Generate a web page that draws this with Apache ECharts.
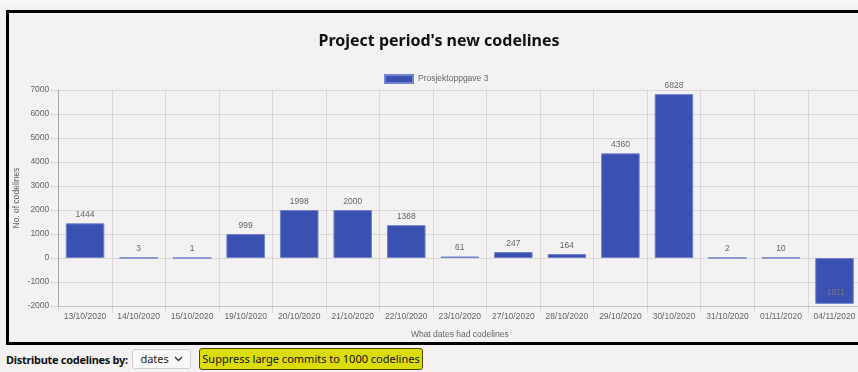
<!DOCTYPE html>
<html>
<head>
<meta charset="utf-8">
<script src="https://cdn.jsdelivr.net/npm/echarts@6/dist/echarts.min.js"></script>
<style>
  html, body { margin: 0; padding: 0; width: 858px; height: 372px; overflow: hidden; background: #f3f1f2; font-family: "Noto Sans", sans-serif; }
  .topstrip { position: absolute; left: 0; top: 0; width: 858px; height: 3px; background: #f8f8f8; }
  .box { position: absolute; left: 6px; top: 10px; width: 880px; height: 329px; border: 3px solid #000; }
  #chart { width: 860px; height: 329px; }
  .controls { position: absolute; left: 0; top: 348px; height: 23px; width: 858px; }
  .lbl { position: absolute; left: 6px; top: 4px; font-weight: bold; font-size: 11px; letter-spacing: -0.3px; color: #111; white-space: nowrap; }
  .sel { position: absolute; left: 132px; top: 1px; width: 57px; height: 18px; border: 1px solid #cfcfcf; border-radius: 3px; background: #f8f8f8; font-size: 11px; color: #222; line-height: 18px; text-align: center; }
  .btn { position: absolute; left: 199px; top: 0px; width: 222px; height: 20px; border: 1px solid #4a4a00; border-radius: 3px; background: #dcdc0a; font-size: 11px; color: #111; line-height: 20px; text-align: center; white-space: nowrap; }
</style>
</head>
<body>
<div class="topstrip"></div>
<div class="box"><div id="chart"></div></div>
<div class="controls">
  <span class="lbl">Distribute codelines by:</span>
  <span class="sel">dates <svg width="9" height="6" viewBox="0 0 9 6" style="vertical-align:1px;margin-left:2px"><path d="M1 1 L4.5 4.5 L8 1" fill="none" stroke="#333" stroke-width="1.4"/></svg></span>
  <span class="btn">Suppress large commits to 1000 codelines</span>
</div>
<script>
// Dates that received commits and the number of new codelines for each
const dates = ['13/10/2020', '14/10/2020', '15/10/2020', '19/10/2020', '20/10/2020', '21/10/2020', '22/10/2020',
  '23/10/2020', '27/10/2020', '28/10/2020', '29/10/2020', '30/10/2020', '31/10/2020', '01/11/2020', '04/11/2020'];
const codelines = [1444, 3, 1, 999, 1998, 2000, 1368, 61, 247, 164, 4360, 6828, 2, 10, -1911];
const seriesName = 'Prosjektoppgave 3';
const yMin = -2000, yMax = 7000, yStep = 1000;

const gridColor = 'rgba(0,0,0,0.1)';
const textColor = '#666';
const baseFont = '"Liberation Sans", Arial, sans-serif';

const chart = echarts.init(document.getElementById('chart'), null, { renderer: 'canvas' });
chart.setOption({
  animation: false,
  backgroundColor: 'transparent',
  textStyle: { fontFamily: baseFont },
  title: {
    text: "Project period's new codelines",
    left: 'center', top: 15,
    textStyle: { fontFamily: '"Noto Sans", sans-serif', fontWeight: 'bold', fontSize: 16, color: '#111' }
  },
  legend: {
    top: 61, left: 375, padding: 0,
    itemWidth: 28, itemHeight: 8, itemGap: 10,
    icon: 'rect',
    textStyle: { fontSize: 8.5, color: textColor, fontFamily: baseFont },
    data: [seriesName]
  },
  grid: { left: 49.3, top: 77, width: 803, height: 216, containLabel: false, outerBoundsMode: 'none' },
  xAxis: {
    type: 'category',
    data: dates,
    boundaryGap: true,
    name: 'What dates had codelines',
    nameLocation: 'middle',
    nameGap: 24,
    nameMoveOverlap: false,
    nameTextStyle: { fontSize: 8.5, color: textColor, fontFamily: baseFont },
    axisLine: { show: true, onZero: false, lineStyle: { color: gridColor } },
    axisTick: { show: true, length: 7, interval: 0, lineStyle: { color: gridColor } },
    axisLabel: { interval: 0, fontSize: 8.5, color: textColor, margin: 6, fontFamily: baseFont },
    splitLine: { show: true, interval: 0, lineStyle: { color: gridColor } }
  },
  yAxis: {
    type: 'value',
    min: yMin, max: yMax, interval: yStep,
    name: 'No. of codelines',
    nameLocation: 'middle',
    nameGap: 37,
    nameMoveOverlap: false,
    nameTextStyle: { fontSize: 8.5, color: textColor, fontFamily: baseFont },
    axisLine: { show: true, lineStyle: { color: 'rgba(0,0,0,0.22)' } },
    axisTick: { show: true, length: 8, lineStyle: { color: gridColor } },
    axisLabel: { fontSize: 8.5, color: textColor, margin: 9, fontFamily: baseFont, formatter: v => String(v) },
    splitLine: { show: true, lineStyle: { color: gridColor } }
  },
  series: [{
    name: seriesName,
    type: 'bar',
    barWidth: '72%',
    data: codelines.map(v => ({
      value: v,
      label: v < 0 ? { position: 'insideBottom', distance: 7, color: '#777' } : undefined
    })),
    itemStyle: { color: '#3b51b1', borderColor: '#7083cc', borderWidth: 1 },
    label: {
      show: true, position: 'top', distance: 4,
      fontSize: 8.5, color: textColor, fontFamily: baseFont
    }
  }]
});
</script>
</body>
</html>
